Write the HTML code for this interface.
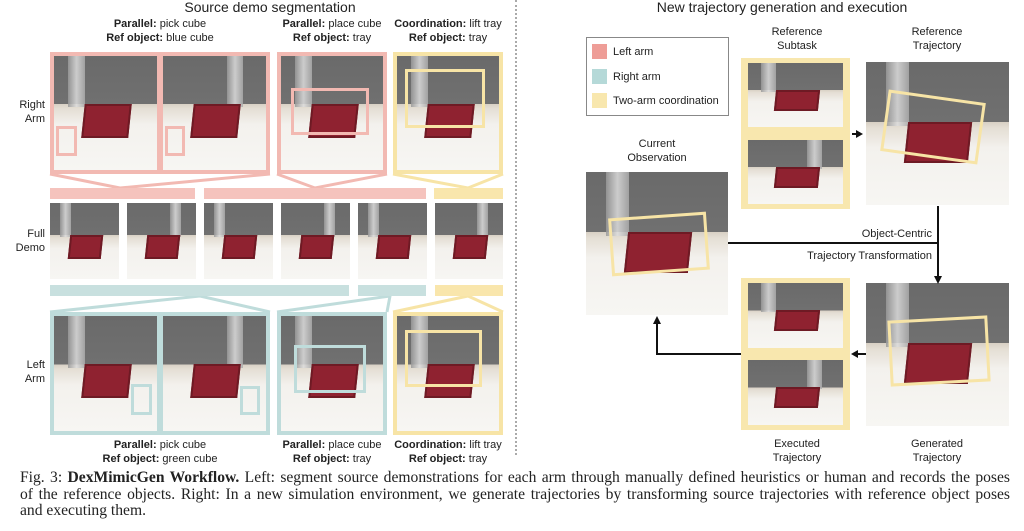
<!DOCTYPE html>
<html><head><meta charset="utf-8"><style>
*{margin:0;padding:0;box-sizing:border-box}
body{width:1024px;height:531px;background:#fff;position:relative;overflow:hidden;font-family:"Liberation Sans",sans-serif;color:#222}
.a{position:absolute}
.sc{position:absolute;background:linear-gradient(to bottom,#6a6a6a 0,#707070 42%,#d8d0c4 42%,#e4ded4 46%,#f3f1ed 60%,#f7f6f3 100%);overflow:hidden}
.sc::before{content:"";position:absolute;left:14%;top:0;width:16%;height:45%;background:linear-gradient(to right,#999,#ddd,#aaa);opacity:.85}
.sc::after{content:"";position:absolute;left:28%;top:42%;width:42%;height:26%;background:#8f2230;border:2px solid #6e1a24;transform:skewX(-6deg)}
.r2::before{left:62%}
.t{position:absolute;font-size:11px;text-align:center;line-height:14px;white-space:nowrap}
.t b{font-weight:bold}
.pk{border:3px solid #f2b9b2}
.bl{border:3px solid #bfdcdb}
.yl{border:3px solid #f7e4a6}
.bar{position:absolute;height:11px}
.cap{position:absolute;left:20px;font-family:"Liberation Serif",serif;font-size:15.6px;line-height:16.5px;width:990px;white-space:nowrap}
.cap div.j{text-align:justify;text-align-last:justify;white-space:normal}
</style></head><body>
<div class="a" style="left:0;top:-1px;width:540px;text-align:center;font-size:14px">Source demo segmentation</div>
<div class="a" style="left:540px;top:-1px;width:484px;text-align:center;font-size:14px">New trajectory generation and execution</div>
<div class="a" style="left:515px;top:0;height:455px;border-left:2px dotted #aaa"></div>

<div class="t" style="left:50px;width:220px;top:17px"><b>Parallel:</b> pick cube<br><b>Ref object:</b> blue cube</div>
<div class="t" style="left:277px;width:110px;top:17px"><b>Parallel:</b> place cube<br><b>Ref object:</b> tray</div>
<div class="t" style="left:388px;width:120px;top:17px"><b>Coordination:</b> lift tray<br><b>Ref object:</b> tray</div>
<div class="t" style="left:5px;width:40px;top:98px;text-align:right">Right<br>Arm</div>
<div class="t" style="left:5px;width:40px;top:227px;text-align:right">Full<br>Demo</div>
<div class="t" style="left:5px;width:40px;top:358px;text-align:right">Left<br>Arm</div>

<div class="a pk" style="left:50px;top:52px;width:220px;height:122px;background:#f2b9b2"></div>
<div class="sc" style="left:54px;top:56px;width:103px;height:114px"></div>
<div class="sc r2" style="left:163px;top:56px;width:103px;height:114px"></div>
<div class="a pk" style="left:56px;top:126px;width:21px;height:30px"></div>
<div class="a pk" style="left:165px;top:126px;width:20px;height:30px"></div>
<div class="a pk" style="left:277px;top:52px;width:110px;height:122px;background:#f2b9b2"></div>
<div class="sc" style="left:281px;top:56px;width:102px;height:114px"></div>
<div class="a pk" style="left:291px;top:88px;width:78px;height:47px"></div>
<div class="a yl" style="left:393px;top:52px;width:110px;height:122px;background:#f7e4a6"></div>
<div class="sc" style="left:397px;top:56px;width:102px;height:114px"></div>
<div class="a yl" style="left:405px;top:69px;width:80px;height:59px"></div>

<svg class="a" style="left:0;top:0" width="540" height="531">
<g fill="none" stroke-width="3">
<polyline points="50,174 120,188 270,174" stroke="#f2b9b2"/>
<polyline points="277,174 315,188 387,174" stroke="#f2b9b2"/>
<polyline points="393,174 468,188 503,174" stroke="#f7e4a6"/>
<polyline points="50,312 200,296 270,312" stroke="#bfdcdb"/>
<polyline points="277,312 390,296 387,312" stroke="#bfdcdb"/>
<polyline points="393,312 468,296 503,312" stroke="#f7e4a6"/>
</g></svg>
<div class="bar" style="left:50px;top:188px;width:145px;background:#f5c3bd"></div>
<div class="bar" style="left:204px;top:188px;width:222px;background:#f5c3bd"></div>
<div class="bar" style="left:434px;top:188px;width:69px;background:#f9e6ac"></div>

<div class="sc" style="left:50px;top:203px;width:69px;height:76px"></div>
<div class="sc r2" style="left:127px;top:203px;width:69px;height:76px"></div>
<div class="sc" style="left:204px;top:203px;width:69px;height:76px"></div>
<div class="sc r2" style="left:281px;top:203px;width:69px;height:76px"></div>
<div class="sc" style="left:358px;top:203px;width:69px;height:76px"></div>
<div class="sc r2" style="left:435px;top:203px;width:68px;height:76px"></div>

<div class="bar" style="left:50px;top:285px;width:299px;background:#c8e0df"></div>
<div class="bar" style="left:358px;top:285px;width:68px;background:#c8e0df"></div>
<div class="bar" style="left:435px;top:285px;width:68px;background:#f9e6ac"></div>

<div class="a bl" style="left:50px;top:312px;width:220px;height:123px;background:#bfdcdb"></div>
<div class="sc" style="left:54px;top:316px;width:103px;height:115px"></div>
<div class="sc r2" style="left:163px;top:316px;width:103px;height:115px"></div>
<div class="a bl" style="left:131px;top:384px;width:21px;height:31px"></div>
<div class="a bl" style="left:240px;top:386px;width:20px;height:29px"></div>
<div class="a bl" style="left:277px;top:312px;width:110px;height:123px;background:#bfdcdb"></div>
<div class="sc" style="left:281px;top:316px;width:102px;height:115px"></div>
<div class="a bl" style="left:294px;top:345px;width:72px;height:48px"></div>
<div class="a yl" style="left:393px;top:312px;width:110px;height:123px;background:#f7e4a6"></div>
<div class="sc" style="left:397px;top:316px;width:102px;height:115px"></div>
<div class="a yl" style="left:405px;top:330px;width:77px;height:57px"></div>

<div class="t" style="left:50px;width:220px;top:438px"><b>Parallel:</b> pick cube<br><b>Ref object:</b> green cube</div>
<div class="t" style="left:277px;width:110px;top:438px"><b>Parallel:</b> place cube<br><b>Ref object:</b> tray</div>
<div class="t" style="left:388px;width:120px;top:438px"><b>Coordination:</b> lift tray<br><b>Ref object:</b> tray</div>

<div class="a" style="left:586px;top:37px;width:143px;height:79px;border:1px solid #888"></div>
<div class="a" style="left:592px;top:44px;width:15px;height:15px;background:#ee9d97"></div>
<div class="a" style="left:592px;top:69px;width:15px;height:15px;background:#b5d9d8"></div>
<div class="a" style="left:592px;top:93px;width:15px;height:15px;background:#f8e7ae"></div>
<div class="t" style="left:613px;top:45px;text-align:left">Left arm</div>
<div class="t" style="left:613px;top:70px;text-align:left">Right arm</div>
<div class="t" style="left:613px;top:94px;text-align:left">Two-arm coordination</div>

<div class="t" style="left:750px;width:94px;top:25px">Reference<br>Subtask</div>
<div class="t" style="left:890px;width:94px;top:25px">Reference<br>Trajectory</div>
<div class="t" style="left:610px;width:94px;top:137px">Current<br>Observation</div>
<div class="t" style="left:750px;width:94px;top:437px">Executed<br>Trajectory</div>
<div class="t" style="left:890px;width:94px;top:437px">Generated<br>Trajectory</div>

<div class="a" style="left:741px;top:58px;width:109px;height:151px;background:#f8e7ae"></div>
<div class="sc" style="left:748px;top:63px;width:95px;height:64px"></div>
<div class="sc r2" style="left:748px;top:140px;width:95px;height:64px"></div>
<div class="sc" style="left:866px;top:62px;width:143px;height:143px"></div>
<div class="a yl" style="left:884px;top:96px;width:98px;height:62px;transform:rotate(8deg)"></div>
<div class="sc" style="left:586px;top:172px;width:142px;height:143px"></div>
<div class="a yl" style="left:610px;top:215px;width:98px;height:58px;transform:rotate(-4deg)"></div>

<div class="a" style="left:741px;top:278px;width:109px;height:152px;background:#f8e7ae"></div>
<div class="sc" style="left:748px;top:283px;width:95px;height:65px"></div>
<div class="sc r2" style="left:748px;top:360px;width:95px;height:65px"></div>
<div class="sc" style="left:866px;top:283px;width:143px;height:143px"></div>
<div class="a yl" style="left:889px;top:318px;width:100px;height:66px;transform:rotate(-3deg)"></div>

<svg class="a" style="left:540px;top:0" width="484" height="531">
<g stroke="#111" stroke-width="2" fill="none">
<line x1="312" y1="134" x2="318" y2="134"/>
<line x1="398" y1="206" x2="398" y2="277"/>
<line x1="188" y1="243" x2="398" y2="243"/>
<line x1="326" y1="354" x2="316" y2="354"/>
<polyline points="201,354 117,354 117,322"/>
</g>
<g fill="#111">
<polygon points="323,134 316,130 316,138"/>
<polygon points="398,284 394,276 402,276"/>
<polygon points="311,354 318,350 318,358"/>
<polygon points="117,316 113,324 121,324"/>
</g>
<text x="392" y="237" font-family="Liberation Sans" font-size="11" text-anchor="end" fill="#222">Object-Centric</text>
<text x="392" y="259" font-family="Liberation Sans" font-size="11" text-anchor="end" fill="#222">Trajectory Transformation</text>
</svg>

<div class="cap" style="top:470px">
<div class="j">Fig. 3: <b>DexMimicGen Workflow.</b> Left: segment source demonstrations for each arm through manually defined heuristics or human and records the poses</div>
<div class="j">of the reference objects. Right: In a new simulation environment, we generate trajectories by transforming source trajectories with reference object poses</div>
<div>and executing them.</div>
</div>
</body></html>
